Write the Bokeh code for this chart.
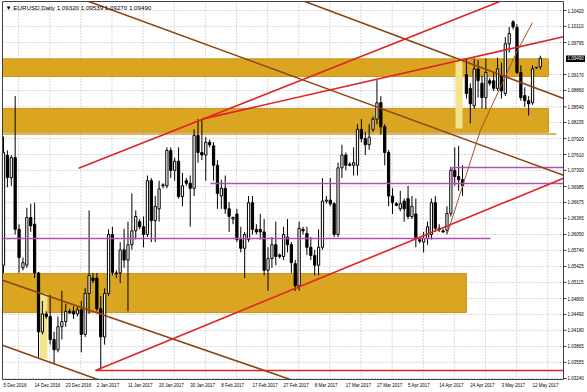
from bokeh.plotting import figure
from bokeh.models import Range1d, ColumnDataSource
from bokeh.core.properties import value
from bokeh.embed import file_html
from bokeh.resources import INLINE

# ---------------- data (EURUSD daily, incl. Sunday bars) ----------------
opens = [1.0545,1.0759,1.0716,1.0755,1.0615,1.0540,1.0545,1.0638,1.0625,1.0530,
         1.0415,1.0450,1.0445,1.0400,1.0380,1.0425,1.0435,1.0455,1.0455,1.0450,
         1.0458,1.0410,1.0490,1.0520,1.0520,1.0460,1.0405,1.0490,1.0605,1.0530,
         1.0530,1.0575,1.0555,1.0585,1.0612,1.0630,1.0620,1.0605,1.0710,1.0632,
         1.0655,1.0700,1.0700,1.0769,1.0730,1.0748,1.0679,1.0710,1.0705,1.0695,
         1.0798,1.0765,1.0760,1.0785,1.0778,1.0740,1.0680,1.0695,1.0655,1.0635,
         1.0645,1.0595,1.0578,1.0595,1.0667,1.0615,1.0615,1.0610,1.0535,1.0558,
         1.0585,1.0565,1.0562,1.0600,1.0585,1.0548,1.0505,1.0615,1.0607,1.0580,
         1.0564,1.0545,1.0580,1.0670,1.0672,1.0665,1.0605,1.0735,1.0760,1.0742,
         1.0740,1.0740,1.0810,1.0792,1.0780,1.0810,1.0830,1.0862,1.0815,1.0765,
         1.0680,1.0665,1.0655,1.0670,1.0675,1.0640,1.0645,1.0595,1.0590,1.0597,
         1.0605,1.0667,1.0617,1.0612,1.0613,1.0646,1.0730,1.0718,1.0712,1.0917,
         1.0890,1.0856,1.0928,1.0900,1.0872,1.0905,1.0905,1.0890,1.0915,1.0880,
         1.0977,1.1020,1.1009,1.0921,1.0876,1.0866,1.0862,1.0930,1.0932]
highs = [1.0796,1.0769,1.0760,1.0875,1.0625,1.0560,1.0657,1.0665,1.0667,1.0532,
         1.0475,1.0455,1.0487,1.0415,1.0445,1.0495,1.0470,1.0460,1.0465,1.0465,
         1.0475,1.0500,1.0652,1.0530,1.0530,1.0485,1.0500,1.0615,1.0620,1.0535,
         1.0590,1.0616,1.0630,1.0685,1.0652,1.0635,1.0640,1.0720,1.0715,1.0680,
         1.0710,1.0705,1.0775,1.0775,1.0755,1.0775,1.0725,1.0715,1.0720,1.0810,
         1.0830,1.0830,1.0795,1.0790,1.0785,1.0750,1.0712,1.0720,1.0668,1.0640,
         1.0655,1.0620,1.0610,1.0680,1.0680,1.0625,1.0645,1.0635,1.0580,1.0600,
         1.0630,1.0568,1.0620,1.0635,1.0590,1.0555,1.0630,1.0620,1.0620,1.0600,
         1.0575,1.0615,1.0715,1.0680,1.0715,1.0668,1.0745,1.0780,1.0765,1.0746,
         1.0775,1.0820,1.0830,1.0805,1.0820,1.0835,1.0906,1.0875,1.0820,1.0770,
         1.0695,1.0668,1.0690,1.0675,1.0700,1.0680,1.0675,1.0600,1.0610,1.0630,
         1.0675,1.0680,1.0625,1.0616,1.0660,1.0737,1.0775,1.0778,1.0740,1.0948,
         1.0900,1.0948,1.0945,1.0915,1.0948,1.0910,1.0920,1.0950,1.0940,1.0990,
         1.1010,1.1023,1.1015,1.0935,1.0892,1.0875,1.0935,1.0932,1.09539]
lows = [1.0530,1.0697,1.0700,1.0605,1.0530,1.0535,1.0540,1.0610,1.0520,1.0365,
        1.0410,1.0440,1.0390,1.0352,1.0375,1.0400,1.0425,1.0450,1.0440,1.0445,
        1.0375,1.0405,1.0450,1.0510,1.0455,1.0341,1.0390,1.0485,1.0525,1.0520,
        1.0510,1.0540,1.0455,1.0575,1.0595,1.0615,1.0580,1.0600,1.0590,1.0590,
        1.0630,1.0695,1.0695,1.0715,1.0710,1.0675,1.0660,1.0700,1.0620,1.0680,
        1.0745,1.0750,1.0710,1.0775,1.0710,1.0655,1.0655,1.0645,1.0610,1.0625,
        1.0590,1.0570,1.0520,1.0590,1.0605,1.0605,1.0595,1.0525,1.0495,1.0540,
        1.0545,1.0558,1.0555,1.0570,1.0530,1.0495,1.0495,1.0605,1.0565,1.0555,
        1.0525,1.0525,1.0575,1.0665,1.0660,1.0600,1.0600,1.0715,1.0730,1.0738,
        1.0720,1.0720,1.0785,1.0760,1.0770,1.0805,1.0820,1.0800,1.0740,1.0660,
        1.0645,1.0660,1.0650,1.0630,1.0635,1.0635,1.0580,1.0588,1.0570,1.0585,
        1.0595,1.0610,1.0610,1.0608,1.0605,1.0640,1.0700,1.0690,1.0680,1.0870,
        1.0822,1.0850,1.0872,1.0851,1.0850,1.0895,1.0885,1.0885,1.0870,1.0875,
        1.0960,1.1005,1.0918,1.0866,1.0854,1.0837,1.0858,1.0928,1.0927]
closes = [1.0765,1.0716,1.0755,1.0615,1.0560,1.0550,1.0638,1.0622,1.0530,1.0415,
          1.0450,1.0445,1.0400,1.0380,1.0425,1.0435,1.0455,1.0452,1.0450,1.0458,
          1.0410,1.0490,1.0525,1.0515,1.0460,1.0405,1.0490,1.0605,1.0531,1.0528,
          1.0575,1.0555,1.0585,1.0612,1.0640,1.0620,1.0605,1.0710,1.0632,1.0660,
          1.0694,1.0702,1.0769,1.0730,1.0748,1.0679,1.0700,1.0705,1.0695,1.0798,
          1.0765,1.0760,1.0785,1.0780,1.0740,1.0685,1.0695,1.0655,1.0640,1.0638,
          1.0595,1.0578,1.0605,1.0667,1.0615,1.0610,1.0610,1.0535,1.0558,1.0585,
          1.0562,1.0562,1.0605,1.0585,1.0550,1.0505,1.0617,1.0612,1.0580,1.0564,
          1.0545,1.0580,1.0670,1.0672,1.0665,1.0605,1.0735,1.0760,1.0740,1.0740,
          1.0745,1.0810,1.0792,1.0780,1.0795,1.0830,1.0862,1.0815,1.0765,1.0680,
          1.0667,1.0662,1.0665,1.0655,1.0640,1.0660,1.0599,1.0592,1.0597,1.0620,
          1.0667,1.0617,1.0614,1.0610,1.0646,1.0730,1.0718,1.0712,1.0700,1.0880,
          1.0860,1.0928,1.0905,1.0872,1.0921,1.0900,1.0890,1.0928,1.0885,1.0977,
          1.0997,1.1010,1.0921,1.0872,1.0866,1.0860,1.0928,1.0931,1.0949]

date_labels = ["5 Dec 2016", "14 Dec 2016", "23 Dec 2016", "2 Jan 2017", "11 Jan 2017",
               "20 Jan 2017", "30 Jan 2017", "8 Feb 2017", "17 Feb 2017", "27 Feb 2017",
               "8 Mar 2017", "17 Mar 2017", "27 Mar 2017", "5 Apr 2017", "14 Apr 2017",
               "24 Apr 2017", "3 May 2017", "12 May 2017"]
date_label_bars = [0, 8, 16, 24, 32, 40, 48, 56, 64, 72, 80, 88, 96, 104, 112, 120, 128, 136]

price_ticks = [1.10420, 1.10110, 1.09795, 1.09170, 1.08860, 1.08540, 1.08235, 1.07920,
               1.07610, 1.07300, 1.06985, 1.06675, 1.06365, 1.06050, 1.05740, 1.05425,
               1.05115, 1.04800, 1.04490, 1.04180, 1.03865, 1.03555, 1.03240]

current_price = 1.09490
title_text = "\u25bc EURUSD,Daily  1.09320 1.09539 1.09270 1.09490"

# drawn objects (bar index, price)
gold_zones = [  # left, right, top, bottom
    (-0.257, 140.1, 1.09477, 1.09132),
    (-0.257, 140.1, 1.08508, 1.08045),
    (-0.257, 119.0, 1.05288, 1.04527),
]
zone_edge_line = ((-0.257, 142.16), 1.08010)
pale_zones = [
    (9.3, 11.3, 1.04898, 1.03630),
    (116.2, 118.0, 1.09483, 1.08118),
]
brown_lines = [
    ([21.9, 143.96], [1.10596, 1.07204]),
    ([77.5, 143.96], [1.10596, 1.08704]),
    ([-0.257, 73.74], [1.05158, 1.03220]),
    ([-0.257, 24.22], [1.03889, 1.03220]),
]
red_lines = [
    ([23.65, 143.96], [1.03396, 1.07147]),
    ([23.65, 143.96], [1.03396, 1.03396]),
    ([19.3, 127.6], [1.07340, 1.10596]),
    ([51.0, 143.96], [1.08300, 1.09909]),
]
thin_curve = ([114.1, 122.6, 132.1, 136.0], [1.06069, 1.08079, 1.09639, 1.10186])
purple_lines = [
    ([-0.257, 125.2], [1.05971, 1.05971]),
    ([53.2, 143.96], [1.07044, 1.07044]),
    ([115.4, 143.96], [1.07357, 1.07357]),
    ([115.4, 115.4], [1.07357, 1.07044]),
]

# ---------------- layout constants (pixel geometry of the MT4 window) ----------------
W, H = 587, 392
PX_PER_BAR = 3.89          # horizontal pixels per bar
BAR0_PX = 3.0              # pixel of bar 0
PX_PER_UNIT = 5125.0       # vertical pixels per price unit
REF_PRICE, REF_PX = 1.10420, 10.0

def bx(px):   # pixel x -> bar coordinate
    return (px - BAR0_PX) / PX_PER_BAR
def py(px):   # pixel y -> price
    return REF_PRICE - (px - REF_PX) / PX_PER_UNIT

FL, FR, FT, FB = bx(2), bx(563), py(1), py(379)   # inner chart frame
FONT = "Liberation Sans"
FS = "4.5px"

p = figure(width=W, height=H, x_range=Range1d(bx(0), bx(W)), y_range=Range1d(py(H), py(0)),
           output_backend="svg", toolbar_location=None,
           min_border=0, min_border_left=0, min_border_right=0, min_border_top=0, min_border_bottom=0,
           background_fill_color="white", border_fill_color="white")
p.axis.visible = False
p.grid.visible = False
p.outline_line_color = None

# grid (dotted)
grid_x = [b + 3.9 for b in date_label_bars]
p.segment(x0=grid_x, y0=[FB] * len(grid_x), x1=grid_x, y1=[FT] * len(grid_x),
          line_color="#B4B4B4", line_dash="1 2", line_width=1)
p.segment(x0=[FL] * len(price_ticks), y0=price_ticks, x1=[FR] * len(price_ticks), y1=price_ticks,
          line_color="#B4B4B4", line_dash="1 2", line_width=1)

# zones
p.quad(left=[z[0] for z in gold_zones], right=[z[1] for z in gold_zones],
       top=[z[2] for z in gold_zones], bottom=[z[3] for z in gold_zones],
       fill_color="#DAA520", line_color="#C8961E", line_width=1)
p.line(list(zone_edge_line[0]), [zone_edge_line[1]] * 2, line_color="#D9B46A", line_width=2)
p.quad(left=[z[0] for z in pale_zones], right=[z[1] for z in pale_zones],
       top=[z[2] for z in pale_zones], bottom=[z[3] for z in pale_zones],
       fill_color="#F2E48A", line_color=None)

# candles
bars = list(range(len(opens)))
src = ColumnDataSource(dict(
    x=bars, o=opens, h=highs, l=lows, c=closes,
    top=[max(o, c) for o, c in zip(opens, closes)],
    bot=[min(o, c) for o, c in zip(opens, closes)],
    fill=["white" if c >= o else "black" for o, c in zip(opens, closes)],
))
p.segment(x0="x", y0="h", x1="x", y1="l", source=src, line_color="black", line_width=1)
p.vbar(x="x", width=0.58, top="top", bottom="bot", source=src,
       fill_color="fill", line_color="black", line_width=1)

# drawn lines
for xs, ys in purple_lines:
    p.line(xs, ys, line_color="#B050B0", line_width=1.6)
for xs, ys in brown_lines:
    p.line(xs, ys, line_color="#8B4513", line_width=1.6)
for xs, ys in red_lines:
    p.line(xs, ys, line_color="#E02424", line_width=1.6)
p.line(thin_curve[0], thin_curve[1], line_color="#A0522D", line_width=1)

# frame border
p.quad(left=[FL], right=[FR], top=[FT], bottom=[FB], fill_color=None,
       line_color="#404040", line_width=1)

# price scale (right)
p.segment(x0=[FR] * len(price_ticks), y0=price_ticks, x1=[bx(566)] * len(price_ticks),
          y1=price_ticks, line_color="#404040", line_width=1)
p.text(x=[bx(567)] * len(price_ticks), y=price_ticks, text=[f"{t:.5f}" for t in price_ticks],
       text_font=value(FONT), text_font_size=value(FS), text_color="black",
       text_align="left", text_baseline="middle")

# current price box
p.quad(left=[bx(565.5)], right=[bx(584.5)], top=[py(55)], bottom=[py(61.5)],
       fill_color="black", line_color=None)
p.text(x=[bx(567)], y=[current_price], text=[f"{current_price:.5f}"],
       text_font=value(FONT), text_font_size=value(FS), text_color="white",
       text_align="left", text_baseline="middle")

# time scale (bottom)
p.text(x=date_label_bars, y=[py(384.5)] * len(date_label_bars), text=date_labels,
       text_font=value(FONT), text_font_size=value(FS), text_color="black",
       text_align="left", text_baseline="middle")

# title
p.text(x=[bx(5)], y=[py(6.5)], text=[title_text], text_font=value(FONT),
       text_font_size=value("6.2px"), text_color="black", text_align="left",
       text_baseline="middle")

open("out.html", "w").write(file_html(p, INLINE))
